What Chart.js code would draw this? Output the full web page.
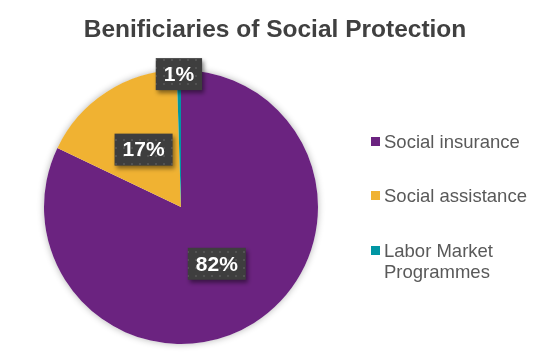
<!DOCTYPE html>
<html>
<head>
<meta charset="utf-8">
<script src="https://cdn.jsdelivr.net/npm/chart.js@4.4.1/dist/chart.umd.min.js"></script>
<style>
    html, body { margin: 0; padding: 0; background: #fff; }
    #wrap { position: relative; width: 550px; height: 364px; font-family: "Liberation Sans", Arial, sans-serif; }
    #chart { position: absolute; left: 0; top: 0; }
    #title { position: absolute; left: 0; top: 17px; width: 550px; text-align: center; font-size: 24.5px; line-height: 24.5px; font-weight: bold; color: #404040; }
    .legend-item { position: absolute; left: 384px; width: 164px; font-size: 18.5px; line-height: 21px; color: #595959; }
    .legend-item .box { position: absolute; left: -13px; top: 6px; width: 9px; height: 9px; }
</style>
</head>
<body>
<div id="wrap">
    <canvas id="chart" width="550" height="364"></canvas>
    <div id="title">Benificiaries of Social Protection</div>
    <div id="legend"></div>
</div>
<script>
// Chart data
const categories = ['Social insurance', 'Social assistance', 'Labor Market Programmes'];
const shares = [82.1, 17.4, 0.5];
const sliceColors = ['#6b2380', '#f0b232', '#0096a3'];

// where each percentage box sits, as a fraction of the radius
const labelRadius = [0.49, 0.5, 0.97];
const legendTops = [131, 185, 240];

/**
 * Build the legend on the right as plain HTML
 */
const legend = document.getElementById('legend');
categories.forEach((name, i) => {
    const item = document.createElement('div');
    item.className = 'legend-item';
    item.style.top = legendTops[i] + 'px';
    item.innerHTML = `<span class="box" style="background:${sliceColors[i]}"></span>${name}`;
    legend.appendChild(item);
});

// dotted texture for the dark label boxes
function makeDotPattern(ctx) {
    const tile = document.createElement('canvas');
    tile.width = 8;
    tile.height = 8;
    const t = tile.getContext('2d');
    t.fillStyle = '#3e3e3e';
    t.fillRect(0, 0, 8, 8);
    t.fillStyle = '#525252';
    t.fillRect(3, 3, 2, 2);
    return ctx.createPattern(tile, 'repeat');
}

// soft shadow behind the whole pie
const pieShadow = {
    id: 'pieShadow',
    beforeDatasetsDraw(chart) {
        const arc = chart.getDatasetMeta(0).data[0];
        if (!arc) return;
        const ctx = chart.ctx;
        ctx.save();
        ctx.shadowColor = 'rgba(0, 0, 0, 0.3)';
        ctx.shadowBlur = 7;
        ctx.fillStyle = '#ffffff';
        ctx.beginPath();
        ctx.arc(arc.x, arc.y, arc.outerRadius, 0, Math.PI * 2);
        ctx.fill();
        ctx.restore();
    }
};

// percentage boxes drawn on top of the slices
const percentBoxes = {
    id: 'percentBoxes',
    afterDatasetsDraw(chart) {
        const ctx = chart.ctx;
        const pattern = makeDotPattern(ctx);
        ctx.save();
        ctx.font = 'bold 21px "Liberation Sans", Arial, sans-serif';
        ctx.textAlign = 'center';
        ctx.textBaseline = 'middle';
        chart.getDatasetMeta(0).data.forEach((arc, i) => {
            const mid = (arc.startAngle + arc.endAngle) / 2;
            const r = arc.outerRadius * labelRadius[i];
            const x = arc.x + Math.cos(mid) * r;
            const y = arc.y + Math.sin(mid) * r;
            const text = Math.round(shares[i]) + '%';
            const w = ctx.measureText(text).width + 16;
            const h = 32;

            ctx.save();
            ctx.shadowColor = 'rgba(0, 0, 0, 0.45)';
            ctx.shadowBlur = 4;
            ctx.shadowOffsetX = 2;
            ctx.shadowOffsetY = 3;
            ctx.fillStyle = pattern;
            ctx.fillRect(x - w / 2, y - h / 2, w, h);
            ctx.restore();

            ctx.fillStyle = '#ffffff';
            ctx.fillText(text, x, y + 1);
        });
        ctx.restore();
    }
};

new Chart(document.getElementById('chart'), {
    type: 'pie',
    data: {
        labels: categories,
        datasets: [{
            data: shares,
            backgroundColor: sliceColors,
            borderWidth: 0
        }]
    },
    options: {
        responsive: false,
        animation: false,
        layout: {
            padding: { left: 44, right: 232, top: 70, bottom: 20 }
        },
        plugins: {
            legend: { display: false },
            title: { display: false },
            tooltip: { enabled: false }
        }
    },
    plugins: [pieShadow, percentBoxes]
});
</script>
</body>
</html>
